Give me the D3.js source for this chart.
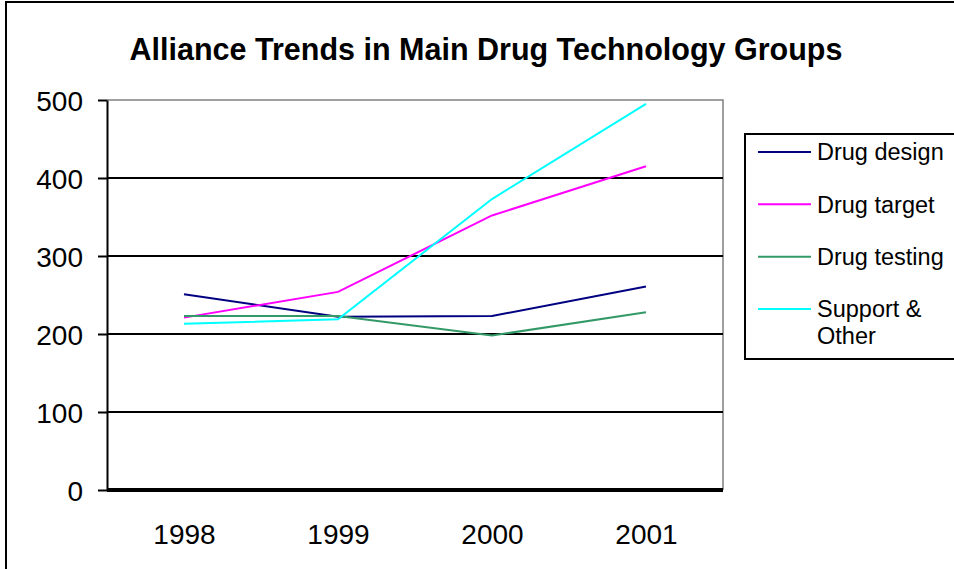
<!DOCTYPE html>
<html>
<head>
<meta charset="utf-8">
<script src="https://cdn.jsdelivr.net/npm/d3@7"></script>
<style>
  html, body { margin: 0; padding: 0; background: #fff; }
  text { font-family: "Liberation Sans", Arial, sans-serif; fill: #000; }
</style>
</head>
<body>
<svg id="chart" width="954" height="569"></svg>
<script>
// Alliance counts per technology group, 1998–2001
const years = ["1998", "1999", "2000", "2001"];
const drugDesign = [251, 222, 223, 261];
const drugTarget = [221, 254, 352, 415];
const drugTesting = [223, 223, 198, 228];
const supportOther = [213, 219, 373, 495];
const seriesNames = ["Drug design", "Drug target", "Drug testing", "Support & Other"];
const seriesColors = ["#000080", "#ff00ff", "#339966", "#00ffff"];
const yTicks = [0, 100, 200, 300, 400, 500];

const series = [drugDesign, drugTarget, drugTesting, supportOther].map((values, i) => ({
  name: seriesNames[i],
  color: seriesColors[i],
  values: values
}));

const svg = d3.select("#chart");
const plot = { left: 107, right: 723, top: 100, bottom: 490 };

svg.append("rect").attr("width", 954).attr("height", 569).attr("fill", "#fff");

// outer chart frame (runs off the right and bottom edges)
svg.append("rect")
  .attr("x", 6).attr("y", 2).attr("width", 970).attr("height", 600)
  .attr("fill", "none").attr("stroke", "#000").attr("stroke-width", 2);

// title
svg.append("text")
  .attr("x", 486).attr("y", 60)
  .attr("text-anchor", "middle")
  .style("font-size", "30.5px").style("font-weight", "bold")
  .text("Alliance Trends in Main Drug Technology Groups");

const x = d3.scalePoint().domain(years).range([plot.left, plot.right]).padding(0.5);
const y = d3.scaleLinear().domain([0, 500]).range([plot.bottom, plot.top]);

// plot area frame: grey top and right edges
svg.append("path")
  .attr("d", `M${plot.left},${y(500)}H${plot.right}V${plot.bottom}`)
  .attr("fill", "none").attr("stroke", "#808080").attr("stroke-width", 1.5);

// horizontal gridlines
svg.append("g")
  .selectAll("line")
  .data(yTicks.filter(t => t > 0 && t < 500))
  .join("line")
  .attr("x1", plot.left).attr("x2", plot.right)
  .attr("y1", d => y(d)).attr("y2", d => y(d))
  .attr("stroke", "#000").attr("stroke-width", 2);

// y axis
const yAxis = svg.append("g")
  .attr("transform", `translate(${plot.left},0)`)
  .call(d3.axisLeft(y).tickValues(yTicks).tickSize(9).tickPadding(15).tickSizeOuter(0));
yAxis.select(".domain").attr("stroke", "#000").attr("stroke-width", 2);
yAxis.selectAll(".tick line").attr("stroke", "#000").attr("stroke-width", 2);
yAxis.selectAll(".tick text")
  .style("font-size", "28px").style("font-family", "'Liberation Sans', Arial, sans-serif")
  .attr("fill", "#000").attr("dy", "0.36em");

// x axis
const xAxis = svg.append("g")
  .attr("transform", `translate(0,${plot.bottom})`)
  .call(d3.axisBottom(x).tickSize(0).tickPadding(34).tickSizeOuter(0));
xAxis.select(".domain").attr("stroke", "#000").attr("stroke-width", 4)
  .attr("d", `M${plot.left},0H${plot.right}`);
xAxis.selectAll(".tick text")
  .style("font-size", "28px").style("font-family", "'Liberation Sans', Arial, sans-serif")
  .attr("fill", "#000").attr("dy", "0.71em");

// series lines
const line = d3.line().x((d, i) => x(years[i])).y(d => y(d));
svg.append("g")
  .selectAll("path")
  .data(series)
  .join("path")
  .attr("d", d => line(d.values))
  .attr("fill", "none")
  .attr("stroke", d => d.color)
  .attr("stroke-width", 2);

// legend
const legend = svg.append("g");
legend.append("rect")
  .attr("x", 745).attr("y", 134).attr("width", 230).attr("height", 225)
  .attr("fill", "#fff").attr("stroke", "#000").attr("stroke-width", 2);

const rowY = d3.scalePoint().domain(seriesNames).range([152, 309]);
const items = legend.selectAll("g.item")
  .data(series)
  .join("g")
  .attr("class", "item")
  .attr("transform", d => `translate(758,${rowY(d.name)})`);
items.append("line")
  .attr("x1", 0).attr("x2", 53)
  .attr("stroke", d => d.color).attr("stroke-width", 2);
items.append("text")
  .attr("x", 59)
  .style("font-size", "23.5px")
  .each(function (d) {
    const t = d3.select(this);
    const parts = d.name === "Support & Other" ? ["Support &", "Other"] : [d.name];
    parts.forEach((p, i) => {
      t.append("tspan").attr("x", 59).attr("dy", i === 0 ? "0.35em" : "27px").text(p);
    });
  });
</script>
</body>
</html>
